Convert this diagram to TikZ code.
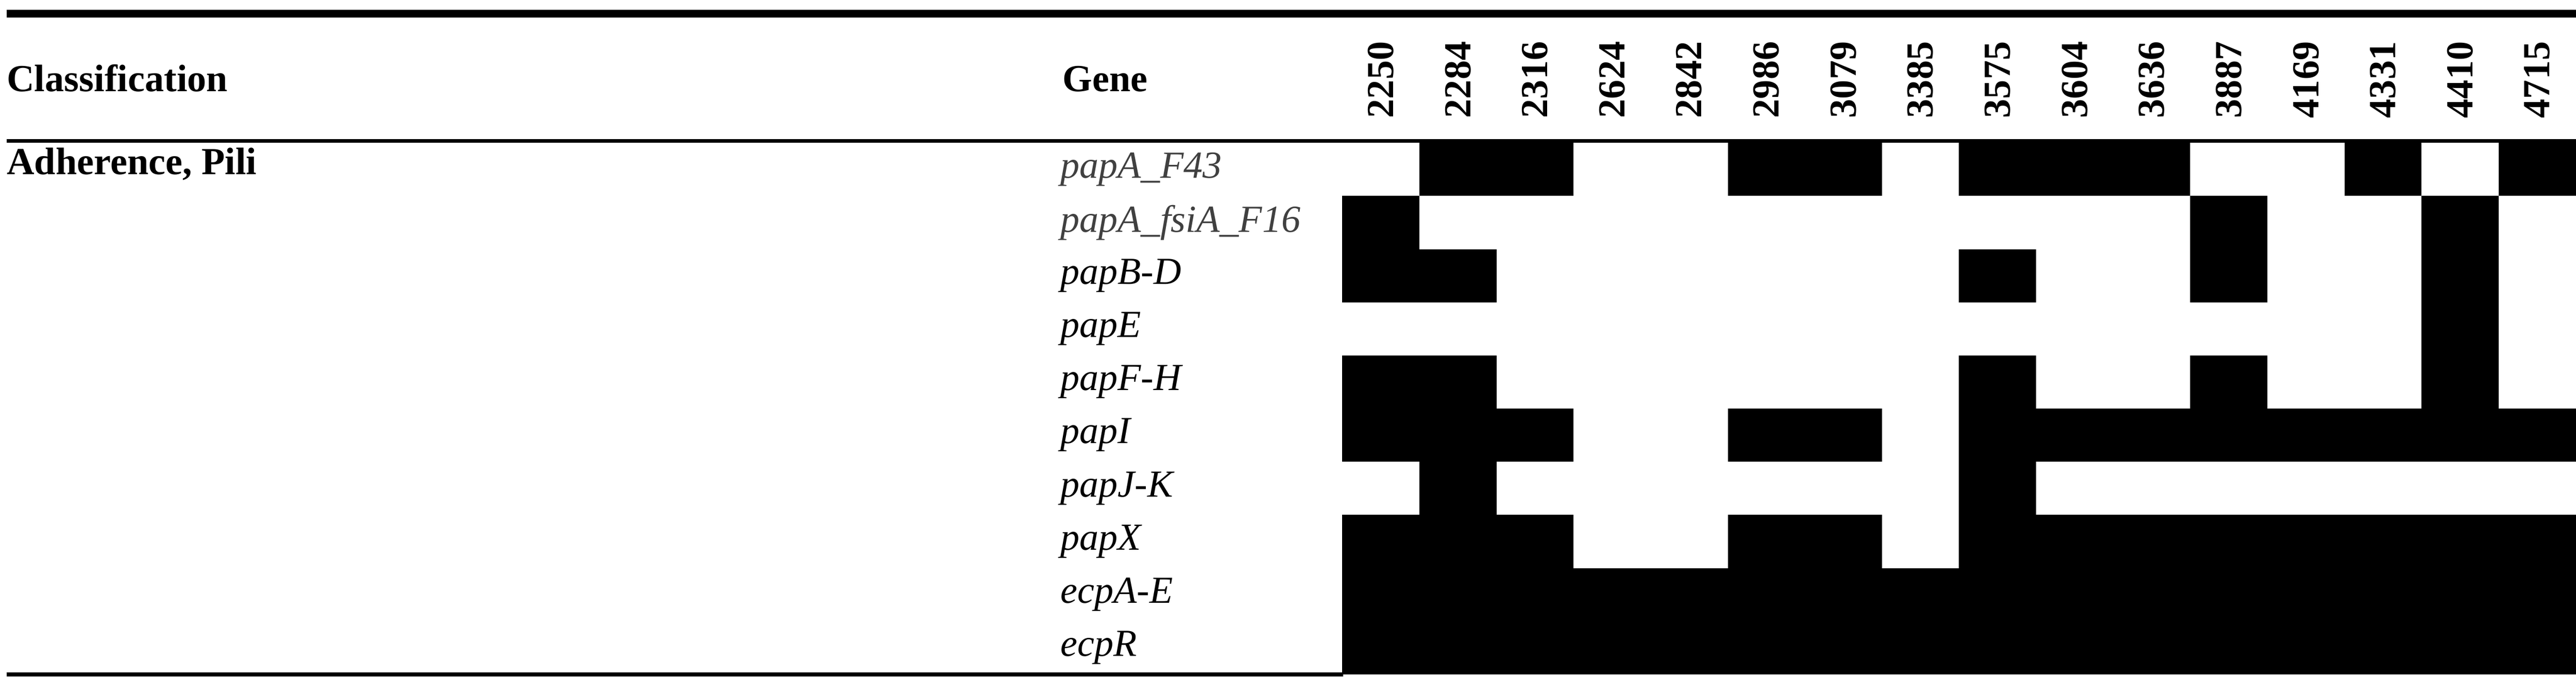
\documentclass[tikz,border=0pt]{standalone}
\usepackage{fontspec}
\setmainfont{Liberation Serif}
\begin{document}
\begin{tikzpicture}[x=1cm,y=1cm,
		head/.style={font=\fontsize{25}{29}\selectfont\bfseries, anchor=base west, inner sep=0pt},
		gene/.style={font=\fontsize{25}{29}\selectfont\itshape, anchor=west, inner sep=0pt},
		num/.style={font=\fontsize{25}{29}\selectfont\bfseries, rotate=90, anchor=west, inner sep=0pt},
		cell/.style={fill=black, draw=none}]
		\useasboundingbox (0,0) rectangle (59.17,-15.54);

		% rules
		\draw[line width=5pt] (0.15,-0.31) -- (59.17,-0.31);
		\draw[line width=2.5pt] (0.15,-3.24) -- (59.17,-3.24);
		\draw[line width=2.5pt] (0.15,-15.49) -- (30.85,-15.49);

		\node[head] (cls) at (0.15,-2.1) {Classification};
		\node[head] (gen) at (24.4,-2.1) {Gene};
		\node[head] (grp) at (0.15,-4.0) {Adherence, Pili};

		% strain numbers
		\foreach \s [count=\i from 0] in {2250,2284,2316,2624,2842,2986,3079,3385,3575,3604,3636,3887,4169,4331,4410,4715}
			\node[num] (s\i) at (30.83+1.771*\i+0.885,-2.72) {\s};

		% genes
		\foreach \g/\c [count=\j from 0] in {papA\_F43/black!75, papA\_fsiA\_F16/black!75, papB-D/black, papE/black, papF-H/black, papI/black, papJ-K/black, papX/black, ecpA-E/black, ecpR/black}
			\node[gene, text=\c] (g\j) at (24.35,-3.28-1.221*\j-0.61) {\g};

		% presence cells
		\foreach \cols [count=\j from 0] in {{1,2,5,6,8,9,10,13,15},{0,11,14},{0,1,8,11,14},{14},{0,1,8,11,14},
				{0,1,2,5,6,8,9,10,11,12,13,14,15},{1,8},{0,1,2,5,6,8,9,10,11,12,13,14,15},
				{0,1,2,3,4,5,6,7,8,9,10,11,12,13,14,15},{0,1,2,3,4,5,6,7,8,9,10,11,12,13,14,15}}
			\foreach \k in \cols
				\fill[cell] (30.83+1.771*\k,-3.28-1.221*\j) rectangle ++(1.771,-1.221);
	\end{tikzpicture}
\end{document}
